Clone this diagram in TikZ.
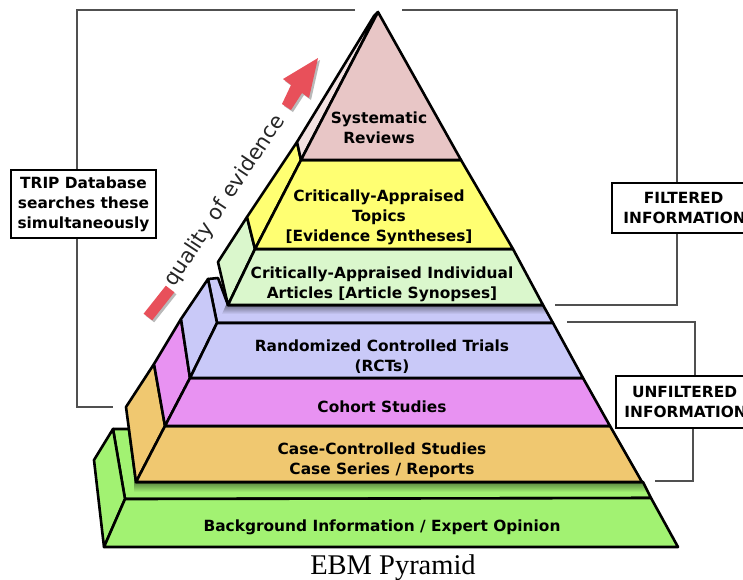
\documentclass[tikz,border=0pt]{standalone}
\usepackage{fontspec}
\setmainfont{Liberation Serif}
\newfontfamily\vfont{DejaVu Sans}
\definecolor{sysc}{HTML}{E8C6C6}
\definecolor{topc}{HTML}{FFFF72}
\definecolor{artc}{HTML}{DAF7CC}
\definecolor{rctc}{HTML}{C9C9F8}
\definecolor{cohc}{HTML}{E892F2}
\definecolor{casc}{HTML}{F0C870}
\definecolor{bgc}{HTML}{A2F272}
\definecolor{brk}{HTML}{505050}
\definecolor{arr}{HTML}{E8505A}
\begin{document}
\begin{tikzpicture}[x=1pt,y=-1pt,
  face/.style={draw=black,line width=2.6pt,line join=round},
  bracket/.style={draw=brk,line width=2.2pt},
  lbl/.style={font=\vfont\bfseries\fontsize{15.4}{20}\selectfont,align=center,inner sep=0pt},
  infobox/.style={draw=black,line width=2.2pt,fill=white,font=\vfont\bfseries\fontsize{15.4}{20}\selectfont,align=center,inner sep=0pt}]
\useasboundingbox (0,0) rectangle (743,579);
\clip (0,0) rectangle (743,579);
\fill[white] (0,0) rectangle (743,579);

% ---- brackets (behind) ----
\node[infobox,minimum width=145pt,minimum height=68pt] (trip) at (83.5,204) {TRIP Database\\searches these\\simultaneously};
\node[infobox,minimum width=141pt,minimum height=50pt,anchor=north west] (filt) at (611,182) {\hspace*{2pt}FILTERED\\\hspace*{4pt}INFORMATION};
\node[infobox,minimum width=137pt,minimum height=52pt,anchor=north west] (unf) at (615,375) {UNFILTERED\\\hspace*{2pt}INFORMATION};

\coordinate (t1) at (355,10);
\coordinate (t2) at (113,407);
\coordinate (f1) at (402,10);
\coordinate (f2) at (555,305);
\coordinate (u1) at (567,322);
\coordinate (u2) at (655,481);
\draw[bracket] (t1) -| (trip.north -| 77,0);
\draw[bracket] (trip.south -| 77,0) |- (t2);
\draw[bracket] (f1) -| (filt.north -| 677,0);
\draw[bracket] (filt.south -| 677,0) |- (f2);
\draw[bracket] (u1) -| (unf.north -| 695,0);
\draw[bracket] (unf.south -| 693,0) |- (u2);

% ---- bottom green block ----
\fill[bgc] (113,429) -- (129,429) -- (136,482) -- (643,482) -- (651,498) -- (125,499) -- cycle;
\shade[top color=bgc!55!black,bottom color=bgc] (134,482) -- (643,482) -- (648,492) -- (134,492) -- cycle;
\draw[face] (113,429) -- (129,429) -- (136,482) -- (643,482) -- (651,498) -- (125,499) -- cycle;
\draw[face,fill=bgc] (104,547) -- (94,460) -- (113,429) -- (125,499) -- cycle;
\draw[face,fill=bgc] (125,499) -- (651,498) -- (678,547) -- (104,547) -- cycle;

% ---- case-controlled ----
\draw[face,fill=casc] (136,482) -- (126,407) -- (154,364) -- (165,426) -- cycle;
\draw[face,fill=casc] (165,426) -- (610,426) -- (642,482) -- (136,482) -- cycle;

% ---- cohort ----
\draw[face,fill=cohc] (165,426) -- (154,364) -- (181,319) -- (190,378) -- cycle;
\draw[face,fill=cohc] (190,378) -- (583,378) -- (610,426) -- (165,426) -- cycle;

% ---- RCT ----
\fill[rctc] (208,279) -- (218,278) -- (228,305) -- (543,305) -- (553,323) -- (217,323) -- cycle;
\shade[top color=rctc!55!black,bottom color=rctc] (226,305) -- (543,305) -- (548,314) -- (222,314) -- cycle;
\draw[face] (208,279) -- (218,278) -- (228,305) -- (543,305) -- (553,323) -- (217,323) -- cycle;
\draw[face,fill=rctc] (190,378) -- (181,319) -- (208,279) -- (217,323) -- cycle;
\draw[face,fill=rctc] (217,323) -- (553,323) -- (583,378) -- (190,378) -- cycle;

% ---- articles ----
\draw[face,fill=artc] (228,305) -- (218,262) -- (247,217) -- (255,249) -- cycle;
\draw[face,fill=artc] (255,249) -- (513,249) -- (543,305) -- (228,305) -- cycle;

% ---- topics ----
\draw[face,fill=topc] (255,249) -- (247,217) -- (297,142) -- (301,160) -- cycle;
\draw[face,fill=topc] (301,160) -- (461,160) -- (513,249) -- (255,249) -- cycle;

% ---- systematic reviews ----
\draw[face,fill=sysc!50!white] (301,160) -- (297,142) -- (374,16) -- (378,12) -- cycle;
\draw[face,fill=sysc] (378,12) -- (461,160) -- (301,160) -- cycle;

% ---- labels ----
\node[lbl] (sys) at (379,128) {Systematic\\Reviews};
\node[lbl] (top) at (379,217) {Critically-Appraised\\Topics\\[0pt][Evidence Syntheses]};
\node[lbl] (art) at (382,284) {Critically-Appraised Individual\\Articles [Article Synopses]};
\node[lbl] (rct) at (382,357) {Randomized Controlled Trials\\(RCTs)};
\node[lbl] (coh) at (382,407) {Cohort Studies};
\node[lbl] (cas) at (382,460) {Case-Controlled Studies\\Case Series / Reports};
\node[lbl] (bg) at (382,527) {Background Information / Expert Opinion};

% ---- quality of evidence arrow ----
\begin{scope}[shift={(2,2)}]
\fill[gray!55] (143.6,313.7) -- (152.2,320.3) -- (174.4,292.3) -- (165.8,285.7) -- cycle;
\fill[gray!55] (282,104) -- (291,110) -- (302,93) -- (309,98) -- (318,58) -- (283,79) -- (291,85) -- cycle;
\end{scope}
\fill[arr] (143.6,313.7) -- (152.2,320.3) -- (174.4,292.3) -- (165.8,285.7) -- cycle;
\fill[arr] (282,104) -- (291,110) -- (302,93) -- (309,98) -- (318,58) -- (283,79) -- (291,85) -- cycle;
\node[font=\vfont\fontsize{21}{22}\selectfont,text=black!85,rotate=56.5,inner sep=0pt] (qual) at (225,201) {quality of evidence};

% ---- caption ----
\node[font=\fontsize{28.5}{30}\selectfont,anchor=base,inner sep=0pt] (cap) at (393,574) {EBM Pyramid};
\end{tikzpicture}
\end{document}
